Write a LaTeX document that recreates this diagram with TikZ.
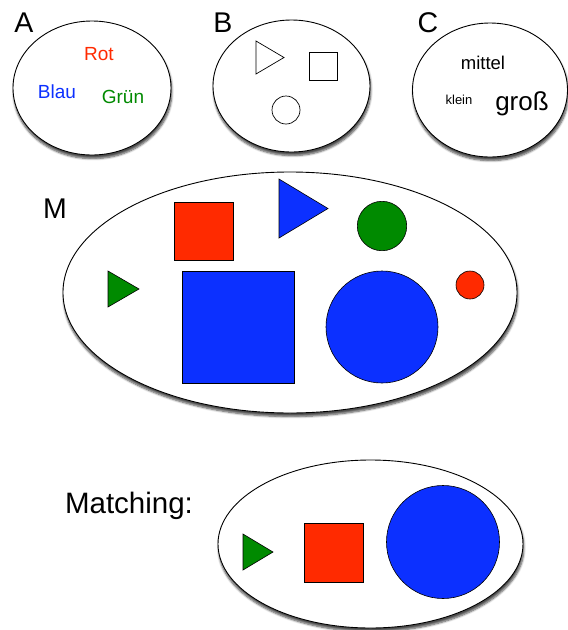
\documentclass[tikz,border=0pt]{standalone}
\usepackage{fontspec}
\setmainfont{Liberation Sans}
\usetikzlibrary{shadows.blur}
\definecolor{sred}{HTML}{FF2A00}
\definecolor{sblue}{HTML}{0C30FF}
\definecolor{sgreen}{HTML}{008A00}
\tikzset{
  oval/.style={draw=black, line width=0.9pt, fill=white,
    blur shadow={shadow xshift=0.8pt, shadow yshift=-3.5pt, shadow blur steps=6,
                 shadow blur extra rounding=1.5pt, shadow opacity=70}},
  piece/.style={draw=black, line width=0.6pt},
  outline/.style={draw=black, line width=0.7pt},
  biglabel/.style={font=\fontsize{28.5}{30}\selectfont},
  word/.style={font=\fontsize{19}{21}\selectfont},
}
\begin{document}
\begin{tikzpicture}[x=1pt, y=-1pt]
\useasboundingbox (0,0) rectangle (568,630);

% set A: colours
\draw[oval] (92,88) ellipse [x radius=79, y radius=67];
\node[biglabel] (labA) at (24,23) {A};
\node[word, text=sred]   (rot)  at (99,54) {Rot};
\node[word, text=sblue]  (blau) at (57,92) {Blau};
\node[word, text=sgreen] (gruen) at (123,97) {Grün};

% set B: forms
\draw[oval] (291.5,86) ellipse [x radius=78.5, y radius=66];
\node[biglabel] (labB) at (223,23) {B};
\draw[outline] (256,41) -- (256,74) -- (284,57.5) -- cycle;
\draw[outline] (309,52) rectangle (337,80);
\draw[outline] (286,110) circle [radius=14];

% set C: sizes
\draw[oval] (490,90) ellipse [x radius=77.5, y radius=67];
\node[biglabel] (labC) at (428,23) {C};
\node[font=\fontsize{18.5}{20}\selectfont] (mittel) at (483,63) {mittel};
\node[font=\fontsize{13}{15}\selectfont] (klein) at (459,100) {klein};
\node[font=\fontsize{26}{28}\selectfont] (gross) at (522,104) {groß};

% set M: all pieces
\draw[oval] (290,292.5) ellipse [x radius=227, y radius=120.5];
\node[biglabel] (labM) at (55,209) {M};
\draw[piece, fill=sred] (174,202) rectangle (233,260);
\draw[piece, fill=sblue] (279,179) -- (279,238) -- (328,208.5) -- cycle;
\draw[piece, fill=sgreen] (382,226) circle [radius=24.7];
\draw[piece, fill=sgreen] (108,271) -- (108,307) -- (139,289) -- cycle;
\draw[piece, fill=sblue] (182,271) rectangle (294,383);
\draw[piece, fill=sblue] (382,327) circle [radius=56];
\draw[piece, fill=sred] (470,285) circle [radius=14];

% the matching
\node[font=\fontsize{29.5}{31}\selectfont] (matching) at (129,506) {Matching:};
\draw[oval] (370.5,544) ellipse [x radius=152.5, y radius=84];
\draw[piece, fill=sgreen] (243,534) -- (243,570) -- (273,552) -- cycle;
\draw[piece, fill=sred] (304,523) rectangle (363,582);
\draw[piece, fill=sblue] (443,542) circle [radius=56.5];
\end{tikzpicture}
\end{document}
